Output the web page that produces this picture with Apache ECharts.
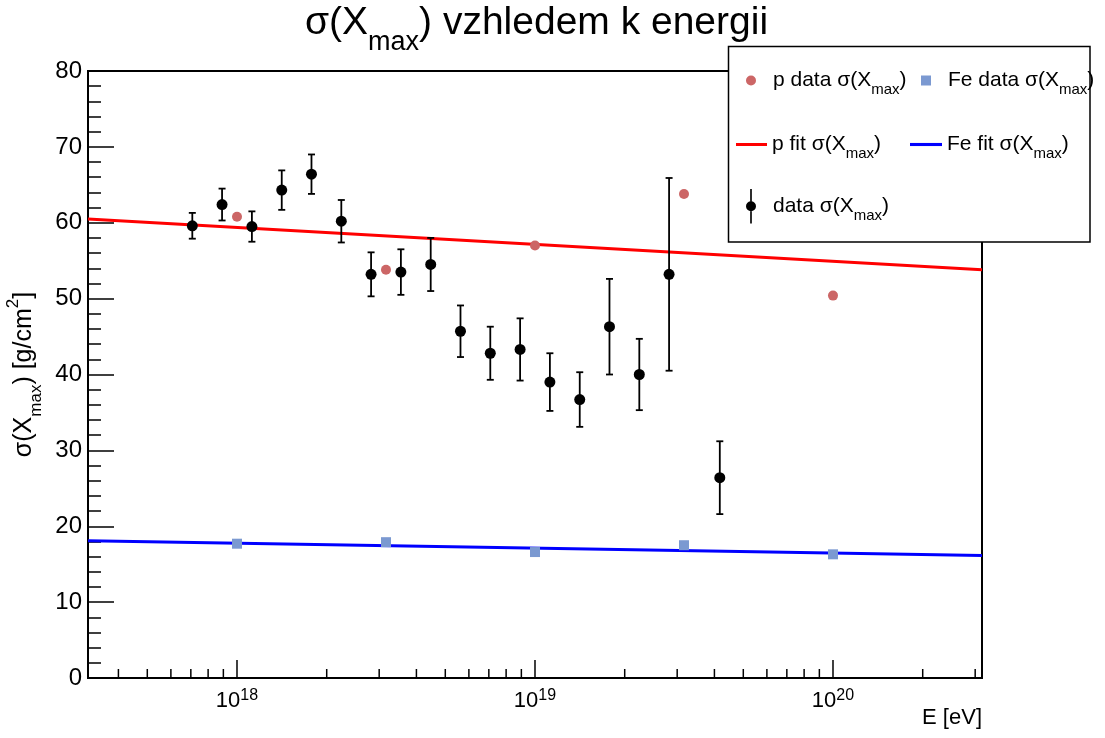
<!DOCTYPE html>
<html><head><meta charset="utf-8">
<script src="https://cdn.jsdelivr.net/npm/echarts@6/dist/echarts.min.js"></script>
<style>html,body{margin:0;padding:0;background:#fff}#c{width:1105px;height:738px}</style>
</head><body><div id="c"></div>
<script>
const FONT = '"Liberation Sans", Arial, Helvetica, sans-serif';

// ---- data ----
const dataE = [7.08e17, 8.91e17, 1.122e18, 1.413e18, 1.778e18, 2.239e18, 2.818e18, 3.548e18, 4.467e18,
               5.623e18, 7.079e18, 8.913e18, 1.122e19, 1.413e19, 1.778e19, 2.239e19, 2.818e19, 4.17e19];
const dataSigma = [59.6, 62.4, 59.5, 64.3, 66.4, 60.2, 53.2, 53.5, 54.5,
                   45.7, 42.8, 43.3, 39.0, 36.7, 46.3, 40.0, 53.2, 26.4];
const dataErr = [1.7, 2.1, 2.0, 2.6, 2.6, 2.8, 2.9, 3.0, 3.5,
                 3.4, 3.5, 4.1, 3.8, 3.6, 6.3, 4.7, 12.7, 4.8];
const modelE = [1e18, 3.162e18, 1e19, 3.162e19, 1e20];
const pSigma = [60.8, 53.8, 57.0, 63.8, 50.4];
const feSigma = [17.7, 17.9, 16.6, 17.5, 16.3];
const fitE = [3.1623e17, 3.1623e20];
const pFit = [60.5, 53.8];
const feFit = [18.1, 16.15];
const xMajorTicks = [1e18, 1e19, 1e20];
const xMinorTicks = [4e17, 5e17, 6e17, 7e17, 8e17, 9e17,
                     2e18, 3e18, 4e18, 5e18, 6e18, 7e18, 8e18, 9e18,
                     2e19, 3e19, 4e19, 5e19, 6e19, 7e19, 8e19, 9e19,
                     2e20, 3e20];

const zip = (a, b) => a.map((v, i) => [v, b[i]]);

function tickRenderer(len) {
  return function (params, api) {
    const p = api.coord([api.value(0), 0]);
    return { type: 'line', shape: { x1: p[0], y1: p[1], x2: p[0], y2: p[1] - len },
             style: { stroke: '#000', lineWidth: 1.5 } };
  };
}
function errRenderer(params, api) {
  const x = api.value(0);
  const top = api.coord([x, api.value(2)]);
  const bot = api.coord([x, api.value(1)]);
  const cap = 3.5;
  const st = { stroke: '#000', lineWidth: 1.8 };
  return { type: 'group', children: [
    { type: 'line', shape: { x1: top[0], y1: top[1], x2: bot[0], y2: bot[1] }, style: st },
    { type: 'line', shape: { x1: top[0] - cap, y1: top[1], x2: top[0] + cap, y2: top[1] }, style: st },
    { type: 'line', shape: { x1: bot[0] - cap, y1: bot[1], x2: bot[0] + cap, y2: bot[1] }, style: st }
  ]};
}

const legRich = {
  a: { fontSize: 21, fontFamily: FONT, color: '#000', lineHeight: 40, verticalAlign: 'middle' },
  s: { fontSize: 15, fontFamily: FONT, color: '#000', verticalAlign: 'top', padding: [22, 0, 0, 0] },
  g: { width: 12, lineHeight: 40 }
};
const legName = {
  'p data': '{g|}{a|p data σ(X}{s|max}{a|)}',
  'Fe data': '{g|}{a|Fe data σ(X}{s|max}{a|)}',
  'p fit': '{a|p fit σ(X}{s|max}{a|)}',
  'Fe fit': '{a|Fe fit σ(X}{s|max}{a|)}',
  'data': '{g|}{a|data σ(X}{s|max}{a|)}'
};
function leg(name, left, top, w, h, icon) {
  return { data: [{ name: name, icon: icon }], left: left, top: top, itemWidth: w, itemHeight: h,
           padding: 0, itemGap: 0, selectedMode: false, z: 20, formatter: n => legName[n],
           textStyle: { rich: legRich, fontFamily: FONT, fontSize: 21, color: '#000' } };
}
const circleIcon = 'path://M5,0 A5,5 0 1,1 5,10 A5,5 0 1,1 5,0 Z';
const squareIcon = 'path://M0,0 L10,0 L10,10 L0,10 Z';
const lineIcon = 'path://M0,0 L31,0 L31,3 L0,3 Z';
const dataIcon = 'path://M4.1,0 L5.9,0 L5.9,38 L4.1,38 Z M5,13.5 A5.5,5.5 0 1,1 5,24.5 A5.5,5.5 0 1,1 5,13.5 Z';

const chart = echarts.init(document.getElementById('c'), null, { renderer: 'canvas' });
chart.setOption({
  animation: false,
  backgroundColor: '#fff',
  title: {
    text: '{a|σ(X}{s|max}{a|) vzhledem k energii}',
    left: 305, top: -16, padding: 0,
    textStyle: { fontWeight: 'normal', rich: {
      a: { fontSize: 39, fontFamily: FONT, fontWeight: 'normal', color: '#000', lineHeight: 78, verticalAlign: 'middle' },
      s: { fontSize: 27, fontFamily: FONT, fontWeight: 'normal', color: '#000', verticalAlign: 'top', padding: [45, 0, 0, 0] }
    } }
  },
  grid: { left: 88, right: 123, top: 71, bottom: 60, show: true, borderColor: '#000', borderWidth: 2,
          backgroundColor: 'transparent', containLabel: false, outerBoundsMode: 'none' },
  xAxis: {
    type: 'log', logBase: 10, min: fitE[0], max: fitE[1],
    axisLine: { show: true, onZero: false, lineStyle: { color: '#000', width: 2 } },
    axisTick: { show: false }, minorTick: { show: false },
    splitLine: { show: false }, minorSplitLine: { show: false },
    axisLabel: {
      margin: 10, color: '#000',
      formatter: function (v) {
        const l = Math.log10(v);
        if (Math.abs(l - Math.round(l)) > 1e-6) return '';
        return '{a|10}{p|' + Math.round(l) + '}';
      },
      rich: {
        a: { fontSize: 22, fontFamily: FONT, color: '#000', lineHeight: 26, verticalAlign: 'middle' },
        p: { fontSize: 16, fontFamily: FONT, color: '#000', lineHeight: 6, verticalAlign: 'top' }
      }
    },
    name: 'E [eV]', nameLocation: 'end', nameGap: 0,
    nameTextStyle: { fontSize: 22, fontFamily: FONT, color: '#000', align: 'right', verticalAlign: 'top',
                     padding: [29, 0, 0, 0] }
  },
  yAxis: {
    type: 'value', min: 0, max: 80, interval: 10,
    axisLine: { show: true, lineStyle: { color: '#000', width: 2 } },
    axisTick: { show: true, inside: true, length: 26, lineStyle: { color: '#000', width: 1.5 } },
    minorTick: { show: true, splitNumber: 5, length: 13, lineStyle: { color: '#000', width: 1.5 } },
    splitLine: { show: false },
    axisLabel: { margin: 6, fontSize: 24, fontFamily: FONT, color: '#000' },
    name: '{a|σ(X}{s|max}{a|) [g/cm}{p|2}{a|]}',
    nameLocation: 'middle', nameRotate: 90, nameGap: 42,
    nameTextStyle: { rich: {
      a: { fontSize: 25, fontFamily: FONT, color: '#000', lineHeight: 40, verticalAlign: 'middle' },
      s: { fontSize: 17, fontFamily: FONT, color: '#000', lineHeight: 22, verticalAlign: 'bottom' },
      p: { fontSize: 17, fontFamily: FONT, color: '#000', lineHeight: 20, verticalAlign: 'top' }
    } }
  },
  legend: [
    leg('p data', 746, 70, 10, 10, circleIcon),
    leg('Fe data', 921, 70, 10, 10, squareIcon),
    leg('p fit', 736, 134, 31, 14, lineIcon),
    leg('Fe fit', 910, 134, 32, 14, lineIcon),
    leg('data', 746, 189, 10, 38, dataIcon)
  ],
  graphic: [
    { type: 'rect', z: 10, shape: { x: 728.5, y: 46.5, width: 361.5, height: 195.5 },
      style: { fill: '#fff', stroke: '#000', lineWidth: 1.5 } }
  ],
  series: [
    { type: 'custom', name: 'majorTicks', renderItem: tickRenderer(18), data: xMajorTicks.map(v => [v, 0]),
      encode: { x: 0, y: 1 }, clip: false, silent: true, z: 5 },
    { type: 'custom', name: 'minorTicks', renderItem: tickRenderer(9), data: xMinorTicks.map(v => [v, 0]),
      encode: { x: 0, y: 1 }, clip: false, silent: true, z: 5 },
    { type: 'line', name: 'p fit', data: zip(fitE, pFit), symbol: 'none', showSymbol: false,
      lineStyle: { color: '#ff0000', width: 3 }, itemStyle: { color: '#ff0000' }, z: 2 },
    { type: 'line', name: 'Fe fit', data: zip(fitE, feFit), symbol: 'none', showSymbol: false,
      lineStyle: { color: '#0000ff', width: 3 }, itemStyle: { color: '#0000ff' }, z: 2 },
    { type: 'custom', name: 'dataErr', renderItem: errRenderer,
      data: dataE.map((e, i) => [e, dataSigma[i] - dataErr[i], dataSigma[i] + dataErr[i]]),
      encode: { x: 0, y: [1, 2] }, z: 3 },
    { type: 'scatter', name: 'data', data: zip(dataE, dataSigma), symbol: 'circle', symbolSize: 11,
      itemStyle: { color: '#000', opacity: 1 }, z: 4 },
    { type: 'scatter', name: 'p data', data: zip(modelE, pSigma), symbol: 'circle', symbolSize: 10,
      itemStyle: { color: '#cc6666', opacity: 1 }, z: 4 },
    { type: 'scatter', name: 'Fe data', data: zip(modelE, feSigma), symbol: 'rect', symbolSize: 10,
      itemStyle: { color: '#7b99d1', opacity: 1 }, z: 4 }
  ]
});
</script></body></html>
